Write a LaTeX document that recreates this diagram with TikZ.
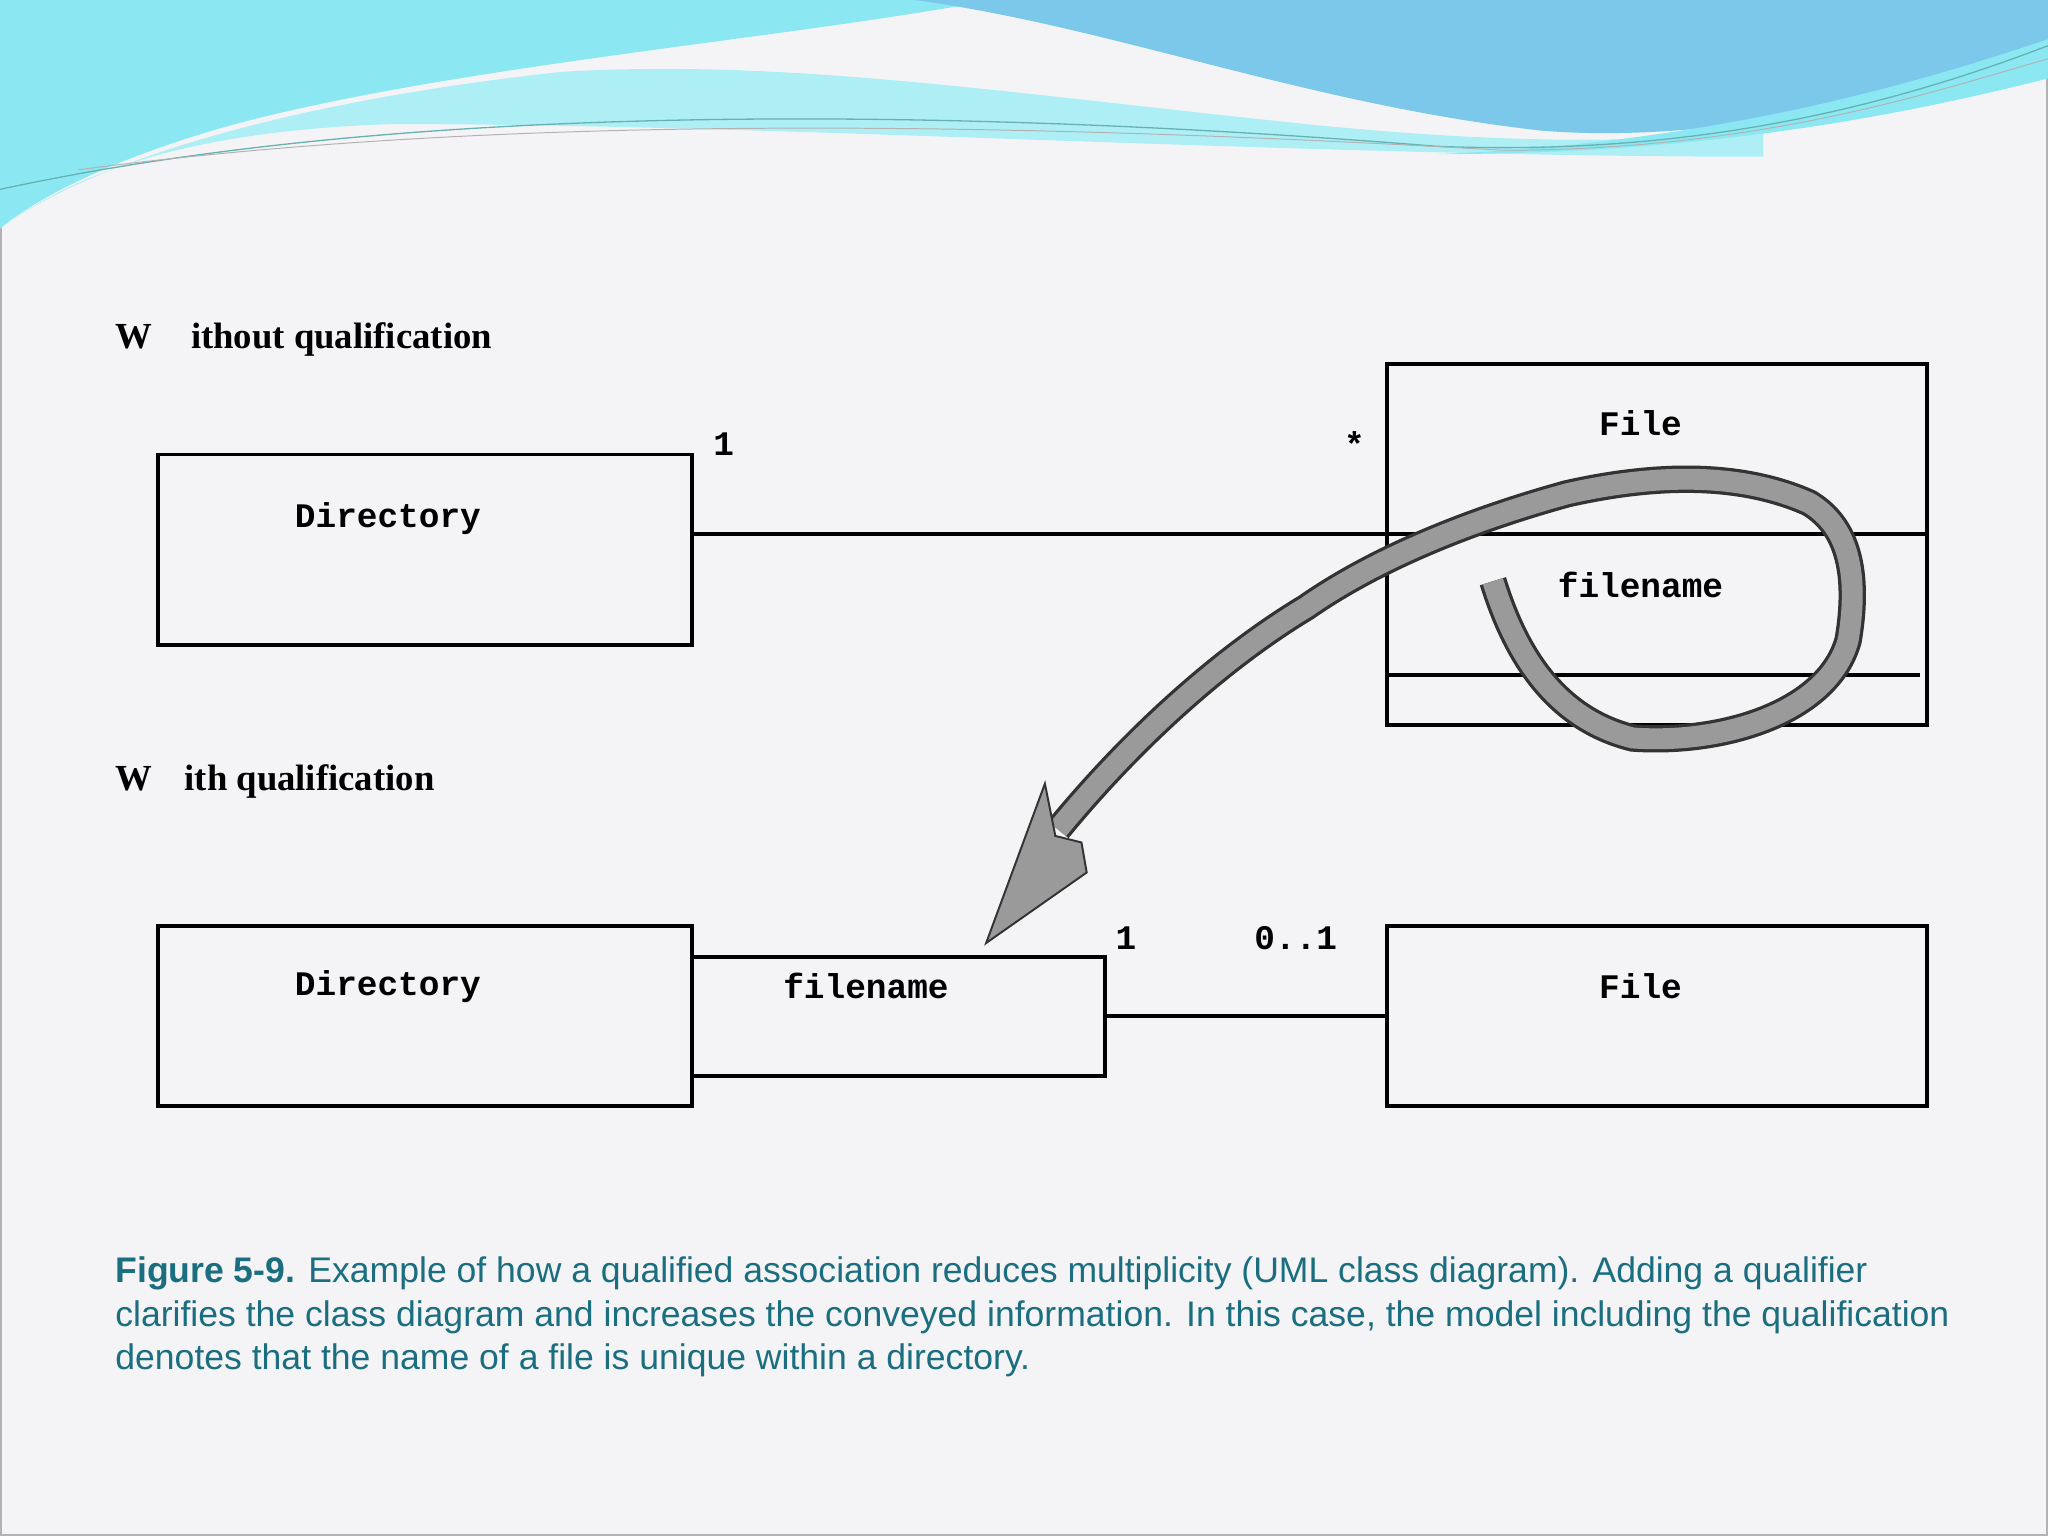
\documentclass[tikz,border=0pt]{standalone}
\usepackage{fontspec}
\setmainfont{Liberation Serif}
\newfontfamily\mono{Liberation Mono}
\newfontfamily\capfont{Liberation Sans}
\definecolor{bgc}{HTML}{F4F4F6}
\definecolor{cyanw}{HTML}{8BE8F2}
\definecolor{bluew}{HTML}{7CC8EA}
\definecolor{capc}{HTML}{1A6E80}
\definecolor{loopc}{HTML}{9A9A9A}
\begin{document}
\begin{tikzpicture}[x=0.02cm,y=-0.02cm,
  cls/.style={draw,line width=0.06cm},
  lbl/.style={font=\mono\bfseries\fontsize{15}{18}\selectfont},
  conn/.style={line width=0.06cm},
  head/.style={font=\bfseries\fontsize{16}{19}\selectfont,anchor=west}]
\useasboundingbox (0,0) rectangle (1568,1176);
\fill[bgc] (0,0) rectangle (1568,1176);
\draw[gray!60,line width=0.03cm] (1,1) rectangle (1567,1175);
% waves
\fill[cyanw] (0,0) -- (760,0) .. controls (600,30) and (350,50) .. (180,95)
  .. controls (90,120) and (30,150) .. (0,175) -- cycle;
\fill[cyanw!70!white] (0,175) .. controls (60,130) and (200,80) .. (430,55)
  .. controls (600,45) and (760,70) .. (1000,95) .. controls (1150,110) and (1250,110) .. (1350,100)
  -- (1350,120) .. controls (1000,120) and (600,95) .. (300,95) .. controls (150,100) and (60,130) .. (0,175) -- cycle;
\fill[bluew] (700,0) -- (1568,0) -- (1568,40) .. controls (1450,80) and (1300,110) .. (1180,100)
  .. controls (1000,80) and (850,20) .. (700,0) -- cycle;
\fill[cyanw] (1100,118) .. controls (1300,110) and (1450,70) .. (1568,30) -- (1568,60)
  .. controls (1450,90) and (1300,118) .. (1100,118) -- cycle;
\draw[teal!60,line width=0.02cm] (0,145) .. controls (300,80) and (700,80) .. (1100,112) .. controls (1300,120) and (1450,80) .. (1568,35);
\draw[gray!60,line width=0.015cm] (60,130) .. controls (400,85) and (800,95) .. (1150,115) .. controls (1350,115) and (1480,70) .. (1568,45);

\node[head] (h1) at (82,260) {W\hspace{0.6cm}ithout qualification};
\node[head] (h2) at (82,598) {W\hspace{0.5cm}ith qualification};

% upper
\draw[cls] (121,348) rectangle (530,494);
\coordinate (d1e) at (530,409);
\node[lbl] (d1) at (297,397) {Directory};
\draw[cls] (1062,279) rectangle (1475,555);
\coordinate (f1w) at (1062,409);
\draw[conn] (1062,409) -- (1475,409);
\draw[conn] (1062,517) -- (1470,517);
\node[lbl] (f1) at (1256,324) {File};
\node[lbl] (fn1) at (1256,448) {filename};
\draw[conn] (d1e) -- (f1w);
\node[lbl] (m1) at (554,340) {1};
\node[lbl] (m2) at (1037,340) {*};

% lower
\draw[cls] (121,709) rectangle (530,847);
\node[lbl] (d2) at (297,755) {Directory};
\draw[cls] (530,733) rectangle (846,824);
\node[lbl] (q2) at (663,755) {filename};
\draw[cls] (1062,709) rectangle (1475,847);
\node[lbl] (f2) at (1256,755) {File};
\coordinate (qe) at (846,778);
\coordinate (f2w) at (1062,778);
\draw[conn] (qe) -- (f2w);
\node[lbl] (m3) at (862,718) {1};
\node[lbl] (m4) at (992,718) {0..1};

% loop arrow
\def\looppath{(1143,445) .. controls (1160,500) and (1190,550) .. (1250,565)
  .. controls (1320,570) and (1400,545) .. (1415,490)
  .. controls (1425,430) and (1410,400) .. (1385,385)
  .. controls (1340,365) and (1280,360) .. (1200,378)
  .. controls (1120,400) and (1050,430) .. (1000,465)
  .. controls (950,495) and (880,550) .. (810,635)}
\draw[black!80,line width=0.42cm] \looppath;
\draw[loopc,line width=0.32cm] \looppath;
\filldraw[fill=loopc,draw=black!80,line width=0.03cm] (755,722) -- (800,600) -- (808,640) -- (828,645) -- (832,668) -- cycle;

\node[anchor=north west,align=left,text=capc,font=\capfont\fontsize{15.5}{19}\selectfont,inner sep=0] (cap) at (88,962)
{\textbf{Figure 5-9.} Example of how a qualified association reduces multiplicity (UML class diagram). Adding a qualifier\\
clarifies the class diagram and increases the conveyed information. In this case, the model including the qualification\\
denotes that the name of a file is unique within a directory.};
\end{tikzpicture}
\end{document}
